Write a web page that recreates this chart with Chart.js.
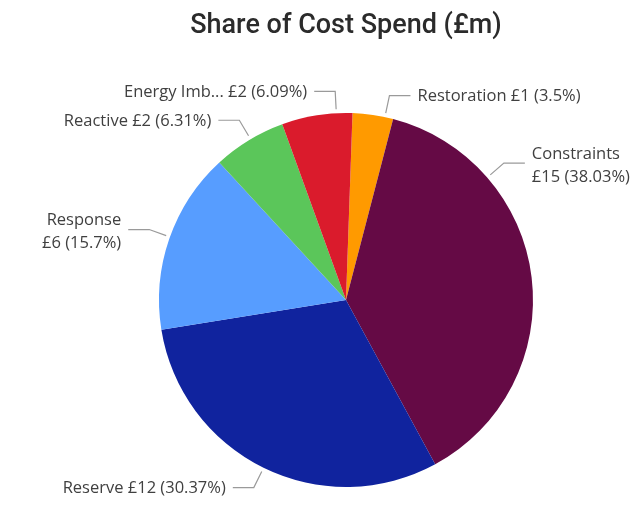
<!DOCTYPE html>
<html>
<head>
<meta charset="utf-8">
<script src="https://cdn.jsdelivr.net/npm/chart.js@4.4.1/dist/chart.umd.min.js"></script>
<style>
  html, body { margin: 0; padding: 0; background: #ffffff; }
  #wrap { width: 641px; height: 505px; position: relative; }
</style>
</head>
<body>
<div id="wrap"><canvas id="c"></canvas></div>
<script>
// Cost categories, their share of total spend (%) and spend rounded to £m
const categories = ['Restoration', 'Constraints', 'Reserve', 'Response', 'Reactive', 'Energy Imbalance'];
const costShare = [3.5, 38.03, 30.37, 15.7, 6.31, 6.09];
const costSpend = [1, 15, 12, 6, 2, 2];
const sliceColors = ['#FF9A00', '#650A45', '#10239E', '#579DFF', '#5BC65A', '#DA1B2C'];

// Label placement tweaks (degrees along the rim) and which labels wrap onto two lines
const labelNudge = [3.7, -34, 0, 0.6, 0.6, 6];
const labelWrap = [false, true, false, true, false, false];
const maxNameChars = 12;
const keptNameChars = 10;

const labelFont = '16.5px "Open Sans", sans-serif';
const labelColor = '#404040';
const leaderColor = '#9a9a9a';

function shortName(name) {
  return name.length > maxNameChars ? name.slice(0, keptNameChars) + '...' : name;
}

const leaderLabels = {
  id: 'leaderLabels',
  afterDatasetsDraw(chart) {
    const ctx = chart.ctx;
    const meta = chart.getDatasetMeta(0);
    ctx.save();
    ctx.font = labelFont;
    ctx.textBaseline = 'middle';
    meta.data.forEach((arc, i) => {
      const p = arc.getProps(['x', 'y', 'startAngle', 'endAngle', 'outerRadius'], true);
      const a = (p.startAngle + p.endAngle) / 2 + labelNudge[i] * Math.PI / 180;
      const dx = Math.cos(a), dy = Math.sin(a);
      const r0 = p.outerRadius + 4, r1 = p.outerRadius + 22;
      const x0 = p.x + dx * r0, y0 = p.y + dy * r0;
      const x1 = p.x + dx * r1, y1 = p.y + dy * r1;
      const side = dx >= 0 ? 1 : -1;
      const x2 = x1 + side * 21;

      ctx.strokeStyle = leaderColor;
      ctx.lineWidth = 1.2;
      ctx.beginPath();
      ctx.moveTo(x0, y0);
      ctx.lineTo(x1, y1);
      ctx.lineTo(x2, y1);
      ctx.stroke();

      const name = shortName(categories[i]);
      const value = '£' + costSpend[i] + ' (' + costShare[i] + '%)';
      ctx.fillStyle = labelColor;
      ctx.textAlign = side > 0 ? 'left' : 'right';
      const tx = x2 + side * 7;
      if (labelWrap[i]) {
        ctx.fillText(name, tx, y1 - 9);
        ctx.fillText(value, tx, y1 + 14);
      } else {
        ctx.fillText(name + ' ' + value, tx, y1 + 1);
      }
    });
    ctx.restore();
  }
};

new Chart(document.getElementById('c'), {
  type: 'pie',
  data: {
    labels: categories,
    datasets: [{
      data: costShare,
      backgroundColor: sliceColors,
      borderWidth: 0,
      hoverOffset: 0,
      offset: 0
    }]
  },
  options: {
    responsive: true,
    maintainAspectRatio: false,
    animation: false,
    events: [],
    rotation: 2,
    layout: { padding: { top: 0, bottom: 18, left: 159, right: 108 } },
    plugins: {
      legend: { display: false },
      tooltip: { enabled: false },
      title: {
        display: true,
        text: 'Share of Cost Spend (£m)',
        color: '#2b2b2b',
        font: { family: 'Roboto, sans-serif', size: 27, weight: '500', lineHeight: 1.2 },
        padding: { top: 10, bottom: 70.6 }
      }
    }
  },
  plugins: [leaderLabels]
});
</script>
</body>
</html>
